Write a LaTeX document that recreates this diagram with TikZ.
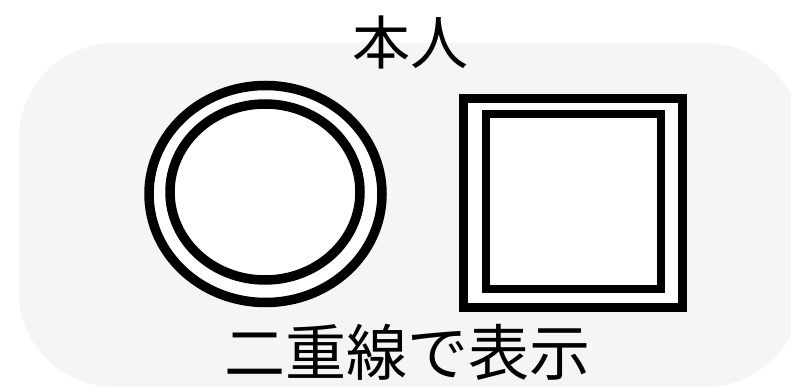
\documentclass[tikz,border=0pt]{standalone}
\usepackage{fontspec}
\newfontfamily\cjk{Noto Sans CJK JP}
\definecolor{bggray}{HTML}{F5F5F5}
\begin{document}
\begin{tikzpicture}[x=1pt,y=1pt,
  ring/.style={draw=black,fill=white,line width=9.5pt},
  box/.style={draw=black,fill=white,line width=8.5pt},
  label/.style={font=\cjk\fontsize{58}{62}\selectfont,inner sep=0pt,text=black}]
\useasboundingbox (0,0) rectangle (791,388);
\clip (0,0) rectangle (791,388);
\fill[bggray,rounded corners=95pt] (19,1) rectangle (801,345);
\coordinate (oc) at (265.5,194);
\coordinate (ic) at (265,196);
\draw[ring] (oc) ellipse [x radius=116.5, y radius=108.5];
\draw[ring] (ic) ellipse [x radius=95, y radius=88];
\coordinate (os1) at (463.5,80.5);
\coordinate (os2) at (682.5,289.5);
\coordinate (is1) at (486,99);
\coordinate (is2) at (661,274);
\draw[box] (os1) rectangle (os2);
\draw[box] (is1) rectangle (is2);
\node[label] (top) at (410,346) {本人};
\node[label,font=\cjk\fontsize{61}{66}\selectfont] (bottom) at (407,36) {二重線で表示};
\end{tikzpicture}
\end{document}
